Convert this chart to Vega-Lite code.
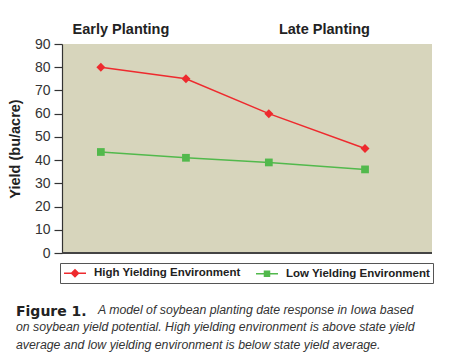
{
  "$schema": "https://vega.github.io/schema/vega-lite/v6.json",
  "width": 370,
  "height": 209,
  "autosize": {"type": "none"},
  "padding": {"left": 62, "top": 44, "right": 43, "bottom": 110},
  "background": "white",
  "config": {
    "view": {"stroke": null, "fill": "#d7d5bc"},
    "font": "Liberation Sans",
    "axisY": {
      "grid": false, "labelOverlap": false,
      "domainColor": "#333", "domainWidth": 1.2,
      "tickColor": "#333", "tickSize": 8, "tickWidth": 1.2,
      "labelFont": "Liberation Sans", "labelFontSize": 14, "labelColor": "#333", "labelPadding": 4,
      "titleFont": "Liberation Sans", "titleFontSize": 14.5,
      "titleFontWeight": "bold", "titleColor": "#222", "titlePadding": 12
    }
  },
  "title": {
    "text": "Figure 1.",
    "subtitle": [
      "\u200b\u00a0\u00a0\u00a0\u00a0\u00a0\u00a0\u00a0\u00a0\u00a0\u00a0\u00a0\u00a0\u00a0\u00a0\u00a0\u00a0\u00a0\u00a0\u00a0\u00a0\u00a0\u00a0\u00a0\u00a0A model of soybean planting date response in Iowa based",
      "on soybean yield potential. High yielding environment is above state yield",
      "average and low yielding environment is below state yield average."
    ],
    "orient": "bottom",
    "anchor": "start",
    "frame": "group",
    "dx": -46,
    "offset": 21,
    "font": "DejaVu Sans",
    "fontSize": 14,
    "fontWeight": "bold",
    "color": "#222",
    "subtitleFont": "Liberation Sans",
    "subtitleFontSize": 12.3,
    "subtitleFontStyle": "italic",
    "subtitleColor": "#333",
    "subtitleLineHeight": 17.5,
    "subtitlePadding": -15
  },
  "data": {
    "values": [
      {"series": "High Yielding Environment", "x": 10.5, "yield": 80},
      {"series": "High Yielding Environment", "x": 33.5, "yield": 75},
      {"series": "High Yielding Environment", "x": 55.9, "yield": 60},
      {"series": "High Yielding Environment", "x": 81.9, "yield": 45},
      {"series": "Low Yielding Environment", "x": 10.5, "yield": 43.5},
      {"series": "Low Yielding Environment", "x": 33.5, "yield": 41},
      {"series": "Low Yielding Environment", "x": 55.9, "yield": 39},
      {"series": "Low Yielding Environment", "x": 81.9, "yield": 36}
    ]
  },
  "layer": [
    {
      "mark": {"type": "line", "strokeWidth": 1.5},
      "encoding": {
        "x": {
          "field": "x", "type": "quantitative",
          "scale": {"domain": [0, 100], "nice": false, "zero": false},
          "axis": {
            "orient": "top", "title": null, "domain": false, "ticks": false, "grid": false,
            "values": [15.8, 70.8],
            "labelExpr": "datum.value < 40 ? 'Early Planting' : 'Late Planting'",
            "labelFont": "Liberation Sans", "labelFontSize": 14.5, "labelFontWeight": "bold",
            "labelColor": "#222", "labelPadding": 8
          }
        },
        "y": {
          "field": "yield", "type": "quantitative",
          "scale": {"domain": [0, 90], "nice": false},
          "axis": {"values": [0, 10, 20, 30, 40, 50, 60, 70, 80, 90], "title": "Yield (bu/acre)"}
        },
        "color": {
          "field": "series", "type": "nominal",
          "scale": {"domain": ["High Yielding Environment", "Low Yielding Environment"], "range": ["#ee2a2e", "#52b94c"]}
        }
      }
    },
    {
      "transform": [{"filter": "datum.series === 'High Yielding Environment'"}],
      "mark": {"type": "point", "filled": true, "opacity": 1, "size": 80, "shape": "diamond"},
      "encoding": {
        "x": {"field": "x", "type": "quantitative"},
        "y": {"field": "yield", "type": "quantitative", "axis": {"values": [0, 10, 20, 30, 40, 50, 60, 70, 80, 90], "title": "Yield (bu/acre)"}},
        "color": {"field": "series", "type": "nominal"}
      }
    },
    {
      "transform": [{"filter": "datum.series === 'Low Yielding Environment'"}],
      "mark": {"type": "point", "filled": true, "opacity": 1, "size": 60, "shape": "square"},
      "encoding": {
        "x": {"field": "x", "type": "quantitative"},
        "y": {"field": "yield", "type": "quantitative", "axis": {"values": [0, 10, 20, 30, 40, 50, 60, 70, 80, 90], "title": "Yield (bu/acre)"}},
        "color": {"field": "series", "type": "nominal"}
      }
    },
    {
      "mark": {"type": "point", "filled": true, "opacity": 0, "size": 10},
      "encoding": {
        "x": {"field": "x", "type": "quantitative"},
        "y": {"field": "yield", "type": "quantitative", "axis": {"values": [0, 10, 20, 30, 40, 50, 60, 70, 80, 90], "title": "Yield (bu/acre)"}},
        "color": {"field": "series", "type": "nominal"},
        "shape": {
          "field": "series", "type": "nominal",
          "scale": {
            "domain": ["High Yielding Environment", "Low Yielding Environment"],
            "range": ["M-1,0H2.667M0.833,-0.583L1.416,0L0.833,0.583L0.25,0Z", "M-1,0H2.667M0.416,-0.417H1.25V0.417H0.416Z"]
          },
          "legend": {
            "orient": "none",
            "legendX": -2,
            "legendY": 219,
            "direction": "horizontal",
            "title": null,
            "strokeColor": "#555",
            "padding": 3,
            "symbolSize": 144,
            "symbolStrokeWidth": 1.5,
            "symbolOpacity": 1,
            "labelFont": "Liberation Sans",
            "labelFontSize": 11.5,
            "labelFontWeight": "bold",
            "labelColor": "#222",
            "labelOffset": 17,
            "labelLimit": 300,
            "columnPadding": 12,
            "encode": {
              "symbols": {
                "update": {
                  "fill": {"signal": "datum.value === 'High Yielding Environment' ? '#ee2a2e' : '#52b94c'"},
                  "stroke": {"signal": "datum.value === 'High Yielding Environment' ? '#ee2a2e' : '#52b94c'"},
                  "strokeWidth": {"value": 1.5},
                  "opacity": {"value": 1},
                  "size": {"value": 144}
                }
              }
            }
          }
        }
      }
    },
    {
      "mark": {"type": "rule", "color": "#444", "strokeWidth": 1.2},
      "encoding": {"y": {"datum": 0, "type": "quantitative", "axis": {"values": [0, 10, 20, 30, 40, 50, 60, 70, 80, 90], "title": "Yield (bu/acre)"}}}
    }
  ]
}
